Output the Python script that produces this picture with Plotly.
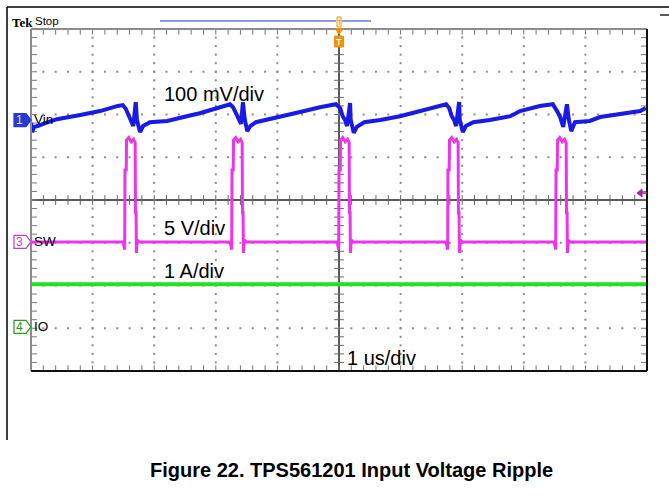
import plotly.graph_objects as go

# ---------------- data ----------------
# Channel 1: Vin ripple (AC), time in us, value in mV (100 mV/div)
vin_t = [-5.00, -4.98, -4.95, -4.89, -4.77, -4.58, -4.20, -3.88, -3.59, -3.51,
         -3.46, -3.41, -3.38, -3.34, -3.30, -3.28, -3.23, -3.18, -3.07, -2.79, -2.47, -2.26, -1.93, -1.77,
         -1.72, -1.67, -1.62, -1.59, -1.56, -1.53, -1.49, -1.44, -1.35, -1.12, -0.63, -0.31, -0.05,
         0.02, 0.06, 0.10, 0.13, 0.18, 0.19, 0.24, 0.29, 0.41, 0.67, 0.99, 1.31, 1.64, 1.74,
         1.79, 1.83, 1.87, 1.90, 1.95, 1.96, 2.01, 2.06, 2.18, 2.45, 2.78, 2.94, 3.26, 3.47,
         3.54, 3.59, 3.64, 3.70, 3.73, 3.77, 3.83, 4.07, 4.24, 4.56, 4.89, 4.98]
vin_mv = [-7, -28, -16, -14, -7, 2, 12, 21, 33, 35,
          26, 7, 0, -14, 42, 0, -28, -14, -5, -2, 9, 16, 30, 37,
          30, 14, 0, -9, 42, 2, -26, -14, -5, 2, 19, 30, 37,
          28, 9, 0, -14, 40, 0, -30, -16, -5, 0, 9, 21, 33, 37,
          28, 9, 0, -14, 42, 0, -28, -14, -5, 0, 9, 21, 33, 37,
          21, 7, -16, 37, 2, -26, -5, -2, 7, 14, 21, 28]

# Channel 3: SW node, time in us, value in V (5 V/div)
sw_t = [-5.000,
        -3.504, -3.479, -3.474, -3.454, -3.449, -3.414, -3.374, -3.334, -3.309, -3.304, -3.294, -3.289, -3.274, -3.244,
        -1.767, -1.742, -1.737, -1.717, -1.712, -1.677, -1.637, -1.597, -1.572, -1.567, -1.557, -1.552, -1.537, -1.507,
        -0.030, -0.005, 0.000, 0.020, 0.025, 0.060, 0.100, 0.140, 0.165, 0.170, 0.180, 0.185, 0.200, 0.230,
        1.739, 1.764, 1.769, 1.789, 1.794, 1.829, 1.869, 1.909, 1.934, 1.939, 1.949, 1.954, 1.969, 1.999,
        3.493, 3.518, 3.523, 3.543, 3.548, 3.583, 3.623, 3.663, 3.688, 3.693, 3.703, 3.708, 3.723, 3.753,
        5.000]
sw_v = [0.0,
        0.0, -0.9, 8.4, 8.4, 11.9, 12.2, 11.7, 12.0, 11.6, 3.4, 3.4, -1.3, 0.2, 0.0,
        0.0, -0.9, 8.4, 8.4, 11.9, 12.2, 11.7, 12.0, 11.6, 3.4, 3.4, -1.3, 0.2, 0.0,
        0.0, -0.9, 8.4, 8.4, 11.9, 12.2, 11.7, 12.0, 11.6, 3.4, 3.4, -1.3, 0.2, 0.0,
        0.0, -0.9, 8.4, 8.4, 11.9, 12.2, 11.7, 12.0, 11.6, 3.4, 3.4, -1.3, 0.2, 0.0,
        0.0, -0.9, 8.4, 8.4, 11.9, 12.2, 11.7, 12.0, 11.6, 3.4, 3.4, -1.3, 0.2, 0.0,
        0.0]

# Channel 4: output current, time in us, value in A (1 A/div)
io_t = [-5.0, 0.0, 5.0]
io_a = [1.0, 1.0, 1.0]

# channel settings: (units-per-div, offset in divisions)
VIN_SCALE, VIN_POS = 100.0, 1.87
SW_SCALE, SW_POS = 5.0, -0.98
IO_SCALE, IO_POS = 1.0, -2.97

scale_labels = ["100 mV/div", "5 V/div", "1 A/div", "1 us/div"]
channel_names = ["Vin", "SW", "IO"]

# ---------------- figure ----------------
W, H = 669, 496
L, R, T, B = 31, 647, 29, 371


def px(x):
    return (x - L) / (R - L)


def py(y):
    return (B - y) / (B - T)


FONT = "Liberation Sans, Arial, sans-serif"
BLUE = "#1a1ae6"
MAG = "#ee33ee"
GRN = "#22e022"
ORANGE = "#f39200"

fig = go.Figure()

# graticule dots
gx, gy = [], []
for i in [-4, -3, -2, -1, 1, 2, 3, 4]:
    for k in range(-20, 21):
        gx.append(i)
        gy.append(k * 0.2)
for j in [-3, -2, -1, 1, 2, 3]:
    for k in range(-25, 26):
        gx.append(k * 0.2)
        gy.append(j)
fig.add_trace(go.Scatter(x=gx, y=gy, mode="markers", hoverinfo="skip",
                         marker=dict(symbol="square", size=2, color="#8a8a8a", line=dict(width=0))))

# centre-line minor ticks
hx = [k * 0.2 for k in range(-25, 26)]
vy = [k * 0.2 for k in range(-20, 21)]
fig.add_trace(go.Scatter(x=hx, y=[0] * len(hx), mode="markers", hoverinfo="skip",
                         marker=dict(symbol="line-ns", size=7, line=dict(width=1, color="#666"))))
fig.add_trace(go.Scatter(x=[0] * len(vy), y=vy, mode="markers", hoverinfo="skip",
                         marker=dict(symbol="line-ew", size=7, line=dict(width=1, color="#666"))))
# border ticks
fig.add_trace(go.Scatter(x=hx + hx, y=[3.95] * len(hx) + [-3.95] * len(hx), mode="markers", hoverinfo="skip",
                         marker=dict(symbol="line-ns", size=5, line=dict(width=1, color="#777"))))
fig.add_trace(go.Scatter(x=[-4.96] * len(vy) + [4.96] * len(vy), y=vy + vy, mode="markers", hoverinfo="skip",
                         marker=dict(symbol="line-ew", size=5, line=dict(width=1, color="#777"))))

# waveforms
fig.add_trace(go.Scatter(x=io_t, y=[a / IO_SCALE + IO_POS for a in io_a], mode="lines",
                         line=dict(color=GRN, width=4), hoverinfo="skip"))
fig.add_trace(go.Scatter(x=sw_t, y=[v / SW_SCALE + SW_POS for v in sw_v], mode="lines",
                         line=dict(color=MAG, width=3), hoverinfo="skip"))
fig.add_trace(go.Scatter(x=vin_t, y=[v / VIN_SCALE + VIN_POS for v in vin_mv], mode="lines",
                         line=dict(color=BLUE, width=4), hoverinfo="skip"))

shapes = []
# centre cross
shapes.append(dict(type="line", xref="x", yref="y", x0=-5, x1=5, y0=0, y1=0,
                   line=dict(color="#222", width=1.5), layer="below"))
shapes.append(dict(type="line", xref="x", yref="y", x0=0, x1=0, y0=-4, y1=4,
                   line=dict(color="#222", width=1.5), layer="below"))
# graticule border (bevelled look)
shapes.append(dict(type="line", xref="paper", yref="paper", x0=0, x1=1, y0=1, y1=1,
                   line=dict(color="#8c8c8c", width=2)))
shapes.append(dict(type="line", xref="paper", yref="paper", x0=0, x1=0, y0=0, y1=1,
                   line=dict(color="#8c8c8c", width=2)))
shapes.append(dict(type="line", xref="paper", yref="paper", x0=1, x1=1, y0=0, y1=1,
                   line=dict(color="#111", width=2)))
shapes.append(dict(type="line", xref="paper", yref="paper", x0=0, x1=1, y0=0, y1=0,
                   line=dict(color="#111", width=2)))
# outer page frame lines
shapes.append(dict(type="line", xref="paper", yref="paper", x0=px(7), x1=px(669), y0=py(7), y1=py(7),
                   line=dict(color="#000", width=1.5)))
shapes.append(dict(type="line", xref="paper", yref="paper", x0=px(7), x1=px(7), y0=py(7), y1=py(440),
                   line=dict(color="#000", width=1.5)))
# small mark at top right
shapes.append(dict(type="line", xref="paper", yref="paper", x0=px(660), x1=px(669), y0=py(15), y1=py(15),
                   line=dict(color="#222", width=1.5)))
# record bar at top
shapes.append(dict(type="line", xref="paper", yref="paper", x0=px(160), x1=px(336), y0=py(21), y1=py(21),
                   line=dict(color="#2233dd", width=1)))
shapes.append(dict(type="line", xref="paper", yref="paper", x0=px(342), x1=px(371), y0=py(21), y1=py(21),
                   line=dict(color="#2233dd", width=1)))
# trigger position markers (orange)
shapes.append(dict(type="rect", xref="paper", yref="paper", x0=px(337), x1=px(341), y0=py(27), y1=py(17),
                   line=dict(color=ORANGE, width=1), fillcolor="white"))
shapes.append(dict(type="path", xref="paper", yref="paper",
                   path=f"M {px(335)},{py(29)} L {px(343)},{py(29)} L {px(339)},{py(34)} Z",
                   line=dict(color=ORANGE, width=1), fillcolor=ORANGE))
shapes.append(dict(type="rect", xref="paper", yref="paper", x0=px(334.5), x1=px(343.5), y0=py(47), y1=py(36),
                   line=dict(color=ORANGE, width=1), fillcolor=ORANGE))
# trigger level marker (right)
shapes.append(dict(type="path", xref="paper", yref="paper",
                   path=f"M {px(637)},{py(193)} L {px(642)},{py(189)} L {px(642)},{py(197)} Z",
                   line=dict(color="#a0289b", width=1), fillcolor="#a0289b"))
shapes.append(dict(type="line", xref="paper", yref="paper", x0=px(641), x1=px(647), y0=py(193), y1=py(193),
                   line=dict(color="#a0289b", width=1.5)))


# channel markers (box with arrow tip)
def marker(yc, fill, edge):
    return dict(type="path", xref="paper", yref="paper",
                path=(f"M {px(14)},{py(yc - 6.5)} L {px(26)},{py(yc - 6.5)} L {px(31)},{py(yc)} "
                      f"L {px(26)},{py(yc + 6.5)} L {px(14)},{py(yc + 6.5)} Z"),
                line=dict(color=edge, width=1.2), fillcolor=fill)


yv = B - (VIN_POS + 4) * (B - T) / 8
ys = B - (SW_POS + 4) * (B - T) / 8
yi = B - (IO_POS + 4) * (B - T) / 8
shapes.append(marker(yv, "#2a3ad0", "#2a3ad0"))
shapes.append(marker(ys, "white", "#c040c0"))
shapes.append(marker(yi, "white", "#20a020"))

ann = []


def text(x, y, s, size, color="#000", family=FONT, xanchor="left"):
    ann.append(dict(x=px(x), y=py(y), xref="paper", yref="paper", text=s, showarrow=False,
                    xanchor=xanchor, yanchor="middle", font=dict(size=size, color=color, family=family)))


text(19.5, yv, "1", 12, "#d8e4ff", xanchor="center")
text(19.5, ys, "3", 12, "#c040c0", xanchor="center")
text(19.5, yi, "4", 12, "#20a020", xanchor="center")
text(32, yv - 1, channel_names[0], 13.5)
text(32, ys, channel_names[1], 13.5)
text(32, yi, channel_names[2], 13.5)

text(162, 94, scale_labels[0], 20)
text(162, 228, scale_labels[1], 20)
text(162, 271, scale_labels[2], 20)
text(345, 358, scale_labels[3], 20)

text(10, 22, "<b>Tek</b>", 13, family="Liberation Serif, Times New Roman, serif")
text(33, 21, "Stop", 11.5)
text(339, 42, "<b>T</b>", 9, "white", xanchor="center")
text(339, 22, "T", 8, ORANGE, xanchor="center")

text(351.5, 470, "<b>Figure 22. TPS561201 Input Voltage Ripple</b>", 20, xanchor="center")

fig.update_layout(
    width=W, height=H,
    margin=dict(l=L, r=W - R, t=T, b=H - B, pad=0),
    paper_bgcolor="white", plot_bgcolor="white",
    showlegend=False,
    xaxis=dict(range=[-5, 5], visible=False, fixedrange=True),
    yaxis=dict(range=[-4, 4], visible=False, fixedrange=True),
    shapes=shapes, annotations=ann,
)

fig.write_html("out.html", config={"displayModeBar": False, "staticPlot": True},
               post_script="document.body.style.margin='0';document.body.style.overflow='hidden';")
